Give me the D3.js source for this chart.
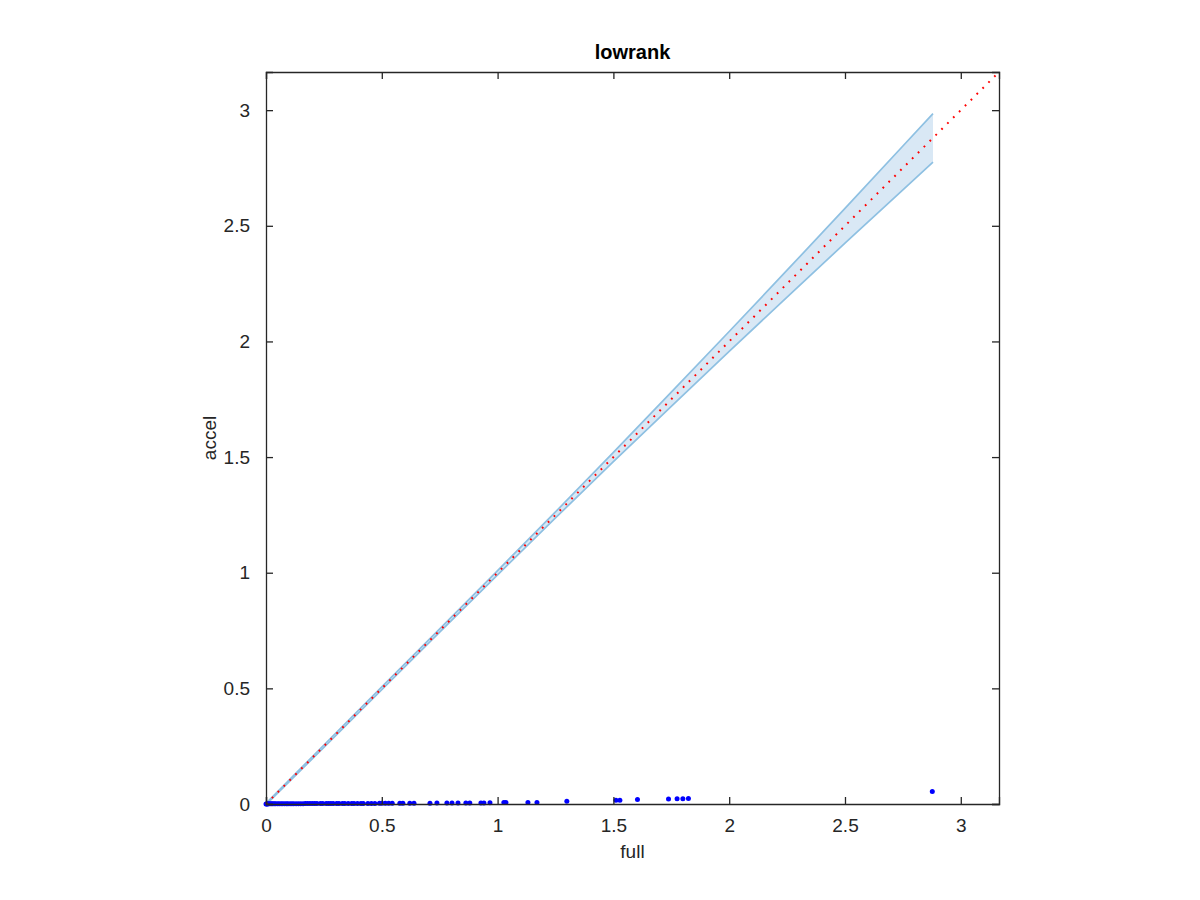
<!DOCTYPE html>
<html>
<head>
<meta charset="utf-8">
<script src="https://cdn.jsdelivr.net/npm/d3@7"></script>
<style>
  body { margin: 0; background: #fff; }
  svg { display: block; font-family: "Liberation Sans", Arial, Helvetica, sans-serif; }
</style>
</head>
<body>
<div id="viz"></div>
<script>
// Chart data
var axisMax = 3.165;
var tickValues = [0, 0.5, 1, 1.5, 2, 2.5, 3];

// confidence band around the diagonal
var bandX     = [0, 0.25, 0.5, 0.75, 1, 1.25, 1.5, 1.75, 2, 2.25, 2.5, 2.75, 2.88];
var bandUpper = [0.003, 0.255, 0.506, 0.757, 1.009, 1.263, 1.52, 1.781, 2.043, 2.308, 2.575, 2.845, 2.985];
var bandLower = [-0.003, 0.245, 0.494, 0.743, 0.991, 1.237, 1.48, 1.719, 1.957, 2.192, 2.425, 2.655, 2.775];

// scatter points (full vs accel)
var pointsX = [0, 0.003, 0.006, 0.01, 0.014, 0.02, 0.025, 0.03, 0.036, 0.042, 0.05, 0.057, 0.065,
  0.072, 0.08, 0.088, 0.095, 0.104, 0.112, 0.12, 0.13, 0.14, 0.15, 0.16, 0.17, 0.18, 0.19, 0.2,
  0.21, 0.22, 0.235, 0.245, 0.26, 0.27, 0.28, 0.29, 0.305, 0.315, 0.33, 0.34, 0.355, 0.37, 0.38,
  0.395, 0.41, 0.42, 0.44, 0.455, 0.47, 0.49, 0.5, 0.515, 0.53, 0.545, 0.578, 0.591, 0.621, 0.639,
  0.708, 0.738, 0.781, 0.803, 0.829, 0.863, 0.88, 0.928, 0.941, 0.967, 1.027, 1.036, 1.131, 1.17,
  1.299, 1.511, 1.528, 1.604, 1.738, 1.775, 1.8, 1.824, 2.877];
var pointsY = [0, 0, 0, 0.001, 0.001, 0.001, 0.001, 0.001, 0.001, 0.001, 0.001, 0.001, 0.001,
  0.001, 0.001, 0.001, 0.001, 0.001, 0.001, 0.001, 0.001, 0.001, 0.001, 0.001, 0.002, 0.002, 0.002, 0.002,
  0.002, 0.002, 0.002, 0.002, 0.002, 0.002, 0.002, 0.002, 0.002, 0.002, 0.002, 0.002, 0.002, 0.002, 0.002,
  0.002, 0.002, 0.002, 0.002, 0.002, 0.002, 0.003, 0.003, 0.003, 0.003, 0.003, 0.003, 0.003, 0.003, 0.003,
  0.003, 0.004, 0.004, 0.004, 0.004, 0.004, 0.004, 0.004, 0.004, 0.005, 0.006, 0.006, 0.007, 0.007,
  0.012, 0.016, 0.016, 0.019, 0.022, 0.023, 0.023, 0.024, 0.054];

var width = 1200;
var height = 900;
var margin = {top: 72, right: 201, bottom: 96, left: 266};

var svg = d3.select('#viz').append('svg')
  .attr('width', width)
  .attr('height', height);

var x = d3.scaleLinear().domain([0, axisMax]).range([margin.left, width - margin.right]);
var y = d3.scaleLinear().domain([0, axisMax]).range([height - margin.bottom, margin.top]);

var axisColor = '#262626';
var fontSize = 19;

// band fill + edges
var band = bandX.map(function (d, i) { return {x: d, hi: bandUpper[i], lo: bandLower[i]}; });

svg.append('path')
  .datum(band)
  .attr('fill', '#d9e8f5')
  .attr('d', d3.area()
    .x(function (d) { return x(d.x); })
    .y0(function (d) { return y(d.lo); })
    .y1(function (d) { return y(d.hi); }));

['hi', 'lo'].forEach(function (k) {
  svg.append('path')
    .datum(band)
    .attr('fill', 'none')
    .attr('stroke', '#8ec0e2')
    .attr('stroke-width', 1.7)
    .attr('d', d3.line()
      .x(function (d) { return x(d.x); })
      .y(function (d) { return y(d[k]); }));
});

// scatter dots
svg.append('g').selectAll('circle')
  .data(pointsX)
  .enter().append('circle')
  .attr('cx', function (d) { return x(d); })
  .attr('cy', function (d, i) { return y(pointsY[i]); })
  .attr('r', 2.5)
  .attr('fill', '#0000ff');

// identity line, dotted
svg.append('line')
  .attr('x1', x(0)).attr('y1', y(0))
  .attr('x2', x(axisMax)).attr('y2', y(axisMax))
  .attr('stroke', '#ff0000')
  .attr('stroke-width', 2)
  .attr('stroke-dasharray', '1.8,6.5');

// axes: MATLAB style box with inward ticks
var tickLen = 7;
var xAxisB = d3.axisBottom(x).tickValues(tickValues).tickSize(-tickLen).tickPadding(tickLen + 8).tickFormat(d3.format('~g'));
var xAxisT = d3.axisTop(x).tickValues(tickValues).tickSize(-tickLen).tickFormat('');
var yAxisL = d3.axisLeft(y).tickValues(tickValues).tickSize(-tickLen).tickPadding(tickLen + 9).tickFormat(d3.format('~g'));
var yAxisR = d3.axisRight(y).tickValues(tickValues).tickSize(-tickLen).tickFormat('');

function styleAxis(g) {
  g.selectAll('path.domain').attr('stroke', axisColor).attr('stroke-width', 1.3);
  g.selectAll('.tick line').attr('stroke', axisColor).attr('stroke-width', 1.3);
  g.selectAll('.tick text').attr('fill', axisColor).style('font-size', fontSize + 'px');
  g.attr('font-family', null);
}

svg.append('g').attr('transform', 'translate(0,' + y(0) + ')').call(xAxisB).call(styleAxis);
svg.append('g').attr('transform', 'translate(0,' + y(axisMax) + ')').call(xAxisT).call(styleAxis);
svg.append('g').attr('transform', 'translate(' + x(0) + ',0)').call(yAxisL).call(styleAxis);
svg.append('g').attr('transform', 'translate(' + x(axisMax) + ',0)').call(yAxisR).call(styleAxis);

// labels
var cx = (x(0) + x(axisMax)) / 2;
var cy = (y(0) + y(axisMax)) / 2;

svg.append('text')
  .attr('x', cx).attr('y', 59)
  .attr('text-anchor', 'middle')
  .style('font-size', '20px')
  .style('font-weight', 'bold')
  .attr('fill', '#000')
  .text('lowrank');

svg.append('text')
  .attr('x', cx).attr('y', 858)
  .attr('text-anchor', 'middle')
  .style('font-size', fontSize + 'px')
  .attr('fill', axisColor)
  .text('full');

svg.append('text')
  .attr('transform', 'translate(216,' + cy + ') rotate(-90)')
  .attr('text-anchor', 'middle')
  .style('font-size', fontSize + 'px')
  .attr('fill', axisColor)
  .text('accel');
</script>
</body>
</html>
